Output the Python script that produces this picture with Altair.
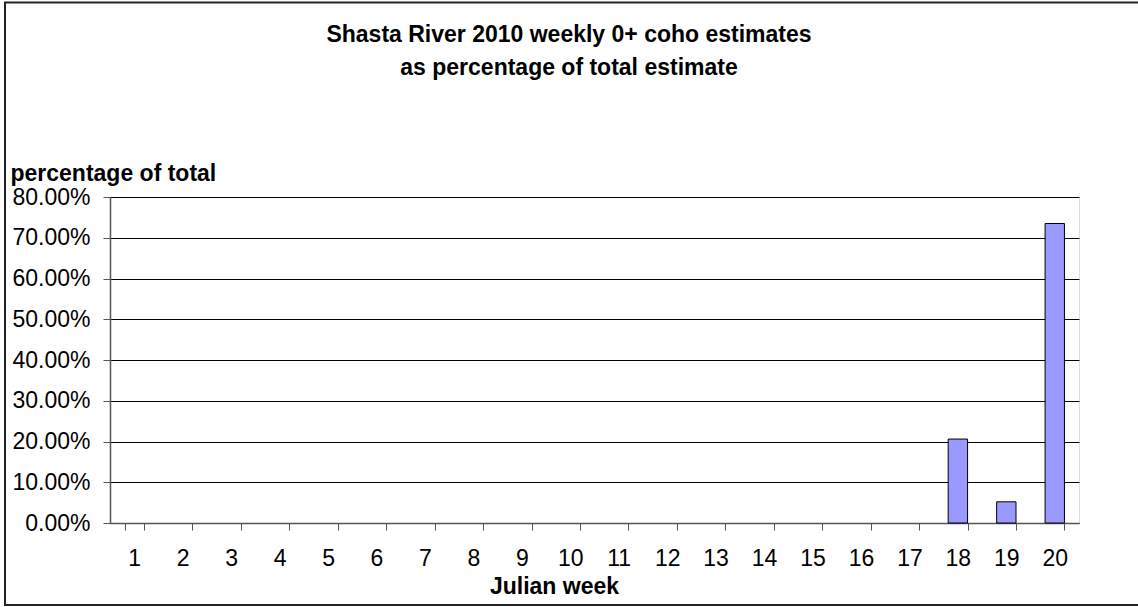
import altair as alt
import pandas as pd

# Weekly 0+ coho estimates as a share of the season total
weeks = list(range(1, 21))
shares = [0.0] * 17 + [0.206, 0.052, 0.735]

title_lines = ["Shasta River 2010 weekly 0+ coho estimates",
               "as percentage of total estimate"]
y_ticks = [0.0, 0.1, 0.2, 0.3, 0.4, 0.5, 0.6, 0.7, 0.8]

df = pd.DataFrame({"week": weeks, "share": shares})

FONT = "Liberation Sans"
FS = 23
W, H = 969, 326

base = alt.Chart(df)

bars = base.mark_bar(
    color="#9999FF", stroke="#000000", strokeWidth=1
).transform_filter(
    "datum.share > 0"
).encode(
    x=alt.X(
        "week:O",
        scale=alt.Scale(domain=weeks, paddingInner=0.6, paddingOuter=0.3),
        axis=alt.Axis(
            title="Julian week", labelAngle=0, labelFont=FONT, labelFontSize=FS,
            labelColor="#000000", labelPadding=17, tickBand="extent", tickSize=7,
            tickColor="#555555", domainColor="#555555", domainWidth=1.5,
            titleFont=FONT, titleFontSize=FS, titleFontWeight="bold",
            titleColor="#000000", titleX=444, titleY=70,
            titleAlign="center", titleBaseline="alphabetic", grid=False,
        ),
    ),
    y=alt.Y(
        "share:Q",
        scale=alt.Scale(domain=[0, 0.8], nice=False),
        axis=alt.Axis(
            values=y_ticks, format=".2%", title="percentage of total",
            labelFont=FONT, labelFontSize=FS, labelColor="#000000",
            labelPadding=13, tickSize=7, tickColor="#555555",
            domainColor="#555555", domainWidth=1.5,
            grid=True, gridColor="#000000", gridWidth=1,
            titleFont=FONT, titleFontSize=FS, titleFontWeight="bold",
            titleColor="#000000", titleAngle=0, titleAlign="left",
            titleBaseline="alphabetic", titleX=-100, titleY=-17,
        ),
    ),
)

# Two-line heading above the plot
heading = alt.Chart(alt.Data(values=[{}])).mark_text(
    text=title_lines, font=FONT, fontSize=FS, fontWeight="bold",
    color="#000000", align="center", baseline="alphabetic", lineHeight=33,
).encode(x=alt.value(459), y=alt.value(-155))

# Outer frame around the whole figure
frame = alt.Chart(alt.Data(values=[{}])).mark_rect(
    fill=None, stroke="#222222", strokeWidth=2
).encode(
    x=alt.value(-105), x2=alt.value(1032),
    y=alt.value(-194.5), y2=alt.value(408),
)

chart = alt.layer(frame, heading, bars).properties(
    width=W,
    height=H,
    padding={"left": 110, "top": 197, "right": 59, "bottom": 84},
    autosize=alt.AutoSizeParams(type="none"),
).configure_view(stroke="#808080", strokeWidth=1).configure(background="white")

chart.save("out.html", embed_options={"renderer": "svg", "actions": False})
